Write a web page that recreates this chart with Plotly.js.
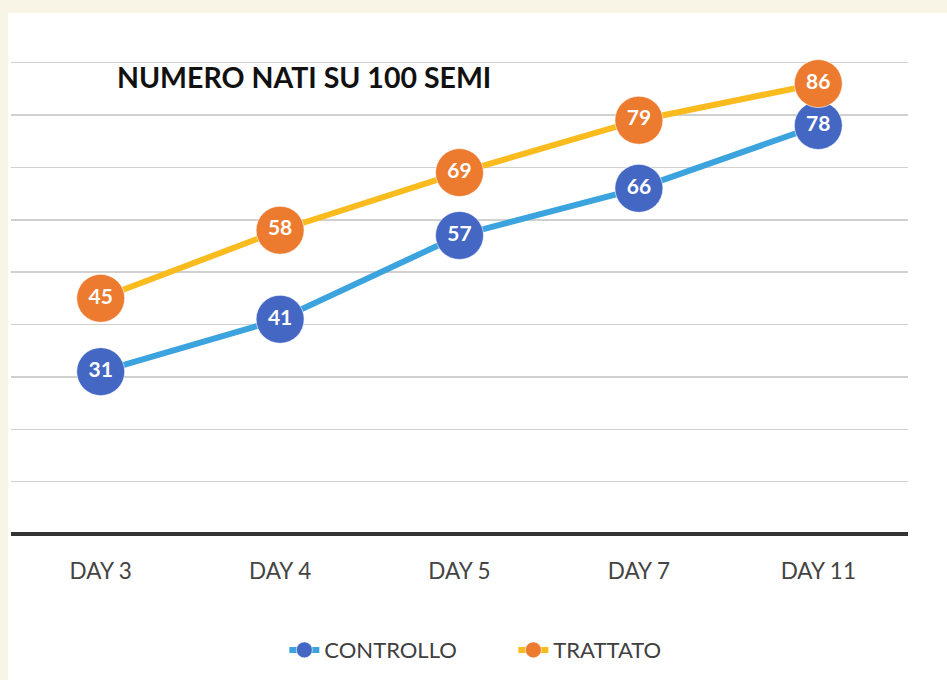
<!DOCTYPE html>
<html><head><meta charset="utf-8">
<script src="https://cdn.plot.ly/plotly-3.0.1.min.js"></script>
<style>
html,body{margin:0;padding:0;background:#f8f5e6;width:947px;height:680px;overflow:hidden;}
#chart{position:absolute;left:8px;top:13px;width:939px;height:667px;}
</style></head>
<body><div id="chart"></div>
<script>
const categories = ["DAY 3", "DAY 4", "DAY 5", "DAY 7", "DAY 11"];
const controllo = [31, 41, 57, 66, 78];
const trattato = [45, 58, 69, 79, 86];
const seriesNames = ["CONTROLLO", "TRATTATO"];

const fontFam = "Lato, 'Open Sans', sans-serif";

function series(name, vals, lineColor, markerColor) {
  return {
    type: "scatter", mode: "lines+markers+text", name: name,
    x: categories, y: vals,
    text: vals.map(String), textposition: "middle center",
    textfont: {family: fontFam, size: 21, color: "#ffffff", weight: 700},
    line: {color: lineColor, width: 6},
    marker: {color: markerColor, size: 48, line: {color: "rgba(255,255,255,0.6)", width: 1}},
    cliponaxis: false
  };
}

const data = [
  series(seriesNames[0], controllo, "#3ba3de", "#4467c4"),
  series(seriesNames[1], trattato, "#f9bb1e", "#ec7b30")
];

const layout = {
  width: 939, height: 667,
  paper_bgcolor: "#ffffff", plot_bgcolor: "rgba(0,0,0,0)",
  margin: {l: 2.5, r: 39, t: 47.4, b: 146},
  title: {text: "<b>NUMERO NATI SU 100 SEMI</b>", font: {family: fontFam, size: 28.5, color: "#111111"},
          x: 109/939, xanchor: "left", xref: "container", y: 1 - 65/667, yanchor: "middle", yref: "container"},
  xaxis: {type: "category", range: [-0.5, 4.5], showgrid: false, showline: false, zeroline: false,
          ticks: "outside", ticklen: 17, tickcolor: "rgba(0,0,0,0)",
          tickfont: {family: fontFam, size: 22.5, color: "#444444"}, fixedrange: true},
  yaxis: {range: [0, 90.5], tickvals: [10, 20, 30, 40, 50, 60, 70, 80, 90], showticklabels: false,
          showgrid: true, gridcolor: "#d0d0d0", gridwidth: 1.5,
          zeroline: true, zerolinecolor: "#333333", zerolinewidth: 3.5, showline: false, fixedrange: true},
  showlegend: true,
  legend: {orientation: "h", x: (282 - 8 - 2.5 + 2) / 897.5, xanchor: "left", y: (534-650)/473.6, yanchor: "middle",
           entrywidth: 184, entrywidthmode: "pixels",
           font: {family: fontFam, size: 22, color: "#404040"}, bgcolor: "rgba(0,0,0,0)"},
  font: {family: fontFam}
};

Plotly.newPlot("chart", data, layout, {displayModeBar: false, staticPlot: true});
</script></body></html>
